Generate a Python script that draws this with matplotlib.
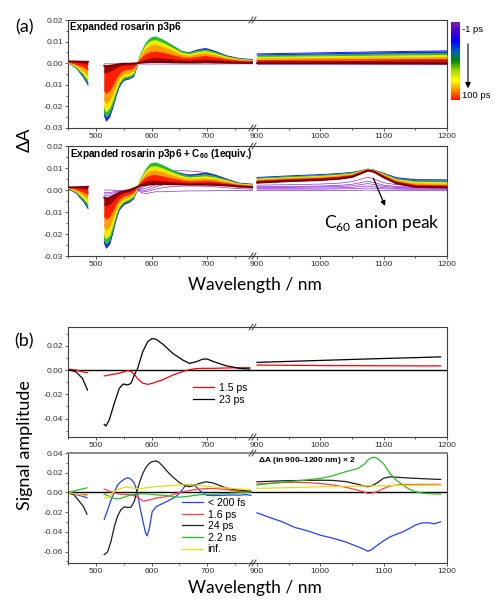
import matplotlib
matplotlib.use('Agg')
import matplotlib.pyplot as plt
import numpy as np
from matplotlib.colors import LinearSegmentedColormap, Normalize
from matplotlib.cm import ScalarMappable
from matplotlib.lines import Line2D
from matplotlib.patches import FancyArrowPatch
from matplotlib.ticker import MultipleLocator, FormatStrFormatter

plt.rcParams['font.family'] = ['Liberation Sans', 'DejaVu Sans']
plt.rcParams['mathtext.fontset'] = 'custom'
plt.rcParams['mathtext.rm'] = 'Lato'
plt.rcParams['mathtext.bf'] = 'Liberation Sans:bold'

nan = np.nan

# ---------------- panel (a): transient spectra ----------------
wl_a = [450, 465, 478, 486, 500, 515, 519, 525, 530, 536, 542, 550, 560, 568, 575,
        581, 590, 598, 607, 620, 637, 655, 668, 682, 697, 712, 735, 757, 782]

# expanded rosarin p3p6, early (blue) -> late (dark red)
ros_blue = [0.0003, -0.0022, -0.0065, -0.0100, nan, -0.0240, -0.0268, -0.0248, -0.0210, -0.0156,
            -0.0110, -0.0080, -0.0073, -0.0062, -0.0005, 0.0040, 0.0085, 0.0105, 0.0110, 0.0100,
            0.0080, 0.0053, 0.0049, 0.0061, 0.0068, 0.0057, 0.0034, 0.0022, 0.0016]
ros_green = [0.0003, -0.0020, -0.0058, -0.0090, nan, -0.0222, -0.0250, -0.0232, -0.0196, -0.0146,
             -0.0102, -0.0074, -0.0068, -0.0056, 0.0000, 0.0045, 0.0092, 0.0115, 0.0122, 0.0108,
             0.0082, 0.0053, 0.0047, 0.0056, 0.0062, 0.0052, 0.0031, 0.0020, 0.0014]
ros_yellow = [0.0004, -0.0016, -0.0048, -0.0075, nan, -0.0200, -0.0225, -0.0208, -0.0176, -0.0130,
              -0.0090, -0.0064, -0.0058, -0.0047, 0.0000, 0.0038, 0.0080, 0.0099, 0.0105, 0.0093,
              0.0070, 0.0045, 0.0040, 0.0048, 0.0054, 0.0045, 0.0027, 0.0017, 0.0012]
ros_orange = [0.0005, -0.0011, -0.0034, -0.0055, nan, -0.0165, -0.0187, -0.0172, -0.0145, -0.0106,
              -0.0072, -0.0050, -0.0045, -0.0036, 0.0000, 0.0030, 0.0063, 0.0078, 0.0083, 0.0074,
              0.0056, 0.0036, 0.0032, 0.0039, 0.0044, 0.0037, 0.0022, 0.0014, 0.0010]
ros_red = [0.0006, -0.0005, -0.0018, -0.0030, nan, -0.0122, -0.0140, -0.0128, -0.0107, -0.0077,
           -0.0050, -0.0033, -0.0029, -0.0022, 0.0000, 0.0018, 0.0039, 0.0049, 0.0052, 0.0047,
           0.0036, 0.0024, 0.0022, 0.0027, 0.0031, 0.0026, 0.0016, 0.0010, 0.0007]
ros_dred = [0.0008, 0.0004, 0.0000, -0.0005, nan, -0.0040, -0.0045, -0.0040, -0.0033, -0.0023,
            -0.0014, -0.0009, -0.0008, -0.0006, 0.0000, 0.0006, 0.0014, 0.0020, 0.0022, 0.0020,
            0.0016, 0.0011, 0.0010, 0.0013, 0.0015, 0.0013, 0.0008, 0.0005, 0.0004]
ros_late = [0.0009, 0.0008, 0.0007, 0.0007, nan, -0.0012, -0.0014, -0.0012, -0.0010, -0.0007,
            -0.0004, -0.0002, -0.0002, -0.0001, 0.0000, 0.0002, 0.0004, 0.0005, 0.0005, 0.0005,
            0.0004, 0.0003, 0.0003, 0.0003, 0.0004, 0.0003, 0.0002, 0.0001, 0.0001]
ros_purple = [0.0000, 0.0000, -0.0001, -0.0002, nan, -0.0003, -0.0003, -0.0003, -0.0003, -0.0003,
              -0.0003, -0.0003, -0.0003, -0.0003, -0.0003, -0.0004, -0.0004, -0.0004, -0.0004, -0.0004,
              -0.0004, -0.0004, -0.0004, -0.0004, -0.0004, -0.0004, -0.0003, -0.0003, -0.0003]

wl_a_nir = [900, 1000, 1100, 1200]
ros_nir_blue = [0.0043, 0.0048, 0.0053, 0.0057]
ros_nir_green = [0.0035, 0.0039, 0.0043, 0.0046]
ros_nir_yellow = [0.0027, 0.0030, 0.0033, 0.0036]
ros_nir_orange = [0.0019, 0.0022, 0.0024, 0.0026]
ros_nir_red = [0.0012, 0.0014, 0.0016, 0.0018]
ros_nir_dred = [0.0006, 0.0007, 0.0009, 0.0011]
ros_nir_late = [0.0000, 0.0000, -0.0001, -0.0002]
ros_nir_purple = [-0.0004, -0.0004, -0.0004, -0.0004]

# expanded rosarin p3p6 + C60
c60_blue = [0.0008, -0.0015, -0.0052, -0.0084, nan, -0.0240, -0.0264, -0.0246, -0.0200, -0.0138,
            -0.0092, -0.0067, -0.0056, -0.0040, 0.0006, 0.0045, 0.0085, 0.0108, 0.0113, 0.0104,
            0.0087, 0.0074, 0.0066, 0.0072, 0.0077, 0.0069, 0.0049, 0.0031, 0.0026]
c60_green = [0.0009, -0.0012, -0.0045, -0.0075, nan, -0.0222, -0.0248, -0.0230, -0.0186, -0.0128,
             -0.0084, -0.0060, -0.0050, -0.0035, 0.0008, 0.0049, 0.0092, 0.0118, 0.0123, 0.0111,
             0.0089, 0.0070, 0.0062, 0.0066, 0.0070, 0.0063, 0.0046, 0.0029, 0.0024]
c60_yellow = [0.0010, -0.0008, -0.0036, -0.0060, nan, -0.0198, -0.0222, -0.0205, -0.0166, -0.0114,
              -0.0074, -0.0052, -0.0042, -0.0028, 0.0009, 0.0045, 0.0083, 0.0102, 0.0106, 0.0096,
              0.0077, 0.0061, 0.0054, 0.0057, 0.0060, 0.0055, 0.0041, 0.0027, 0.0022]
c60_orange = [0.0011, -0.0003, -0.0024, -0.0040, nan, -0.0162, -0.0182, -0.0168, -0.0136, -0.0093,
              -0.0060, -0.0042, -0.0032, -0.0020, 0.0011, 0.0039, 0.0070, 0.0084, 0.0087, 0.0079,
              0.0064, 0.0051, 0.0046, 0.0048, 0.0050, 0.0046, 0.0035, 0.0024, 0.0019]
c60_red = [0.0012, 0.0004, -0.0010, -0.0020, nan, -0.0118, -0.0132, -0.0122, -0.0099, -0.0068,
           -0.0043, -0.0029, -0.0020, -0.0010, 0.0013, 0.0032, 0.0055, 0.0064, 0.0066, 0.0060,
           0.0050, 0.0041, 0.0037, 0.0038, 0.0040, 0.0037, 0.0029, 0.0020, 0.0016]
c60_dred = [0.0012, 0.0010, 0.0006, 0.0004, nan, -0.0065, -0.0072, -0.0066, -0.0054, -0.0038,
            -0.0024, -0.0014, -0.0007, 0.0001, 0.0014, 0.0025, 0.0036, 0.0040, 0.0041, 0.0038,
            0.0034, 0.0030, 0.0028, 0.0029, 0.0030, 0.0028, 0.0024, 0.0018, 0.0014]
c60_late = [0.0012, 0.0013, 0.0014, 0.0015, nan, -0.0035, -0.0040, -0.0036, -0.0029, -0.0020,
            -0.0012, -0.0006, 0.0000, 0.0008, 0.0015, 0.0020, 0.0023, 0.0025, 0.0026, 0.0026,
            0.0026, 0.0025, 0.0024, 0.0024, 0.0024, 0.0023, 0.0020, 0.0016, 0.0013]
c60_purple1 = [0.0000, 0.0000, -0.0002, -0.0004, nan, 0.0000, 0.0000, 0.0000, -0.0001, -0.0002,
               -0.0002, -0.0001, 0.0000, 0.0000, -0.0003, -0.0010, -0.0018, -0.0012, -0.0008, -0.0008,
               -0.0006, -0.0005, -0.0004, -0.0004, -0.0004, -0.0003, -0.0003, -0.0002, -0.0002]
c60_purple2 = [0.0002, 0.0000, -0.0004, -0.0008, nan, -0.0010, -0.0012, -0.0011, -0.0009, -0.0007,
               -0.0005, -0.0004, -0.0003, -0.0002, 0.0000, -0.0004, -0.0008, -0.0002, 0.0004, 0.0010,
               0.0016, 0.0018, 0.0018, 0.0018, 0.0017, 0.0015, 0.0010, 0.0006, 0.0004]
c60_purple3 = [0.0003, 0.0000, -0.0006, -0.0012, nan, -0.0017, -0.0019, -0.0017, -0.0014, -0.0011,
               -0.0008, -0.0006, -0.0005, -0.0003, 0.0001, 0.0000, -0.0002, 0.0006, 0.0014, 0.0024,
               0.0032, 0.0035, 0.0035, 0.0034, 0.0032, 0.0028, 0.0020, 0.0012, 0.0008]
c60_purple4 = [0.0003, 0.0000, -0.0006, -0.0012, nan, -0.0025, -0.0028, -0.0026, -0.0022, -0.0017,
               -0.0013, -0.0009, -0.0007, -0.0004, 0.0002, 0.0005, 0.0008, 0.0015, 0.0025, 0.0038,
               0.0048, 0.0052, 0.0052, 0.0050, 0.0048, 0.0042, 0.0030, 0.0018, 0.0012]
c60_purple5 = [0.0004, 0.0000, -0.0007, -0.0014, nan, -0.0031, -0.0034, -0.0031, -0.0026, -0.0020,
               -0.0015, -0.0011, -0.0008, -0.0005, 0.0003, 0.0010, 0.0019, 0.0032, 0.0047, 0.0060,
               0.0068, 0.0071, 0.0070, 0.0068, 0.0065, 0.0057, 0.0040, 0.0024, 0.0016]
c60_purple6 = [0.0004, 0.0000, -0.0008, -0.0016, nan, -0.0035, -0.0040, -0.0036, -0.0030, -0.0024,
               -0.0018, -0.0013, -0.0010, -0.0006, 0.0004, 0.0015, 0.0030, 0.0050, 0.0068, 0.0080,
               0.0087, 0.0088, 0.0086, 0.0084, 0.0080, 0.0070, 0.0050, 0.0030, 0.0020]

wl_c60_nir = [900, 950, 1000, 1030, 1050, 1065, 1075, 1085, 1100, 1120, 1150, 1200]
c60_nir_blue = [0.0057, 0.0064, 0.0070, 0.0075, 0.0080, 0.0088, 0.0095, 0.0090, 0.0076, 0.0056, 0.0047, 0.0046]
c60_nir_green = [0.0053, 0.0060, 0.0066, 0.0071, 0.0077, 0.0087, 0.0094, 0.0089, 0.0073, 0.0051, 0.0041, 0.0040]
c60_nir_yellow = [0.0049, 0.0056, 0.0062, 0.0067, 0.0073, 0.0085, 0.0093, 0.0088, 0.0070, 0.0046, 0.0035, 0.0033]
c60_nir_orange = [0.0045, 0.0052, 0.0057, 0.0063, 0.0070, 0.0083, 0.0092, 0.0087, 0.0067, 0.0042, 0.0028, 0.0026]
c60_nir_red = [0.0041, 0.0048, 0.0053, 0.0059, 0.0066, 0.0081, 0.0091, 0.0086, 0.0064, 0.0038, 0.0022, 0.0020]
c60_nir_dred = [0.0038, 0.0045, 0.0050, 0.0056, 0.0063, 0.0079, 0.0090, 0.0085, 0.0061, 0.0034, 0.0018, 0.0015]
c60_nir_late = [0.0033, 0.0040, 0.0045, 0.0051, 0.0059, 0.0076, 0.0088, 0.0082, 0.0057, 0.0030, 0.0014, 0.0011]
c60_nir_purple1 = [-0.0002, -0.0002, -0.0002, -0.0002, -0.0002, -0.0001, 0.0000, -0.0001, -0.0002, -0.0002, -0.0002, -0.0002]
c60_nir_purple2 = [0.0004, 0.0004, 0.0004, 0.0005, 0.0006, 0.0008, 0.0009, 0.0008, 0.0005, 0.0004, 0.0003, 0.0003]
c60_nir_purple3 = [0.0008, 0.0008, 0.0009, 0.0010, 0.0012, 0.0016, 0.0018, 0.0015, 0.0010, 0.0008, 0.0007, 0.0007]
c60_nir_purple4 = [0.0012, 0.0012, 0.0014, 0.0016, 0.0019, 0.0025, 0.0029, 0.0025, 0.0016, 0.0012, 0.0011, 0.0011]
c60_nir_purple5 = [0.0015, 0.0016, 0.0018, 0.0021, 0.0026, 0.0034, 0.0040, 0.0034, 0.0022, 0.0016, 0.0014, 0.0014]
c60_nir_purple6 = [0.0022, 0.0024, 0.0027, 0.0031, 0.0038, 0.0050, 0.0058, 0.0050, 0.0033, 0.0024, 0.0021, 0.0020]

delay_labels = ['-1 ps', '100 ps']

# ---------------- panel (b): decay associated spectra ----------------
wl_b1 = [449, 464, 476, 485, 500, 515, 518, 524, 533, 542, 549, 557, 563, 569, 575,
         584, 593, 601, 608, 620, 638, 656, 668, 680, 692, 700, 712, 733, 757, 776]
das1_23ps = [0.0006, -0.0014, -0.0069, -0.0165, nan, -0.0447, -0.0461, -0.0412, -0.0274, -0.0151,
             -0.0115, -0.0123, -0.0110, -0.0041, 0.0014, 0.0150, 0.0233, 0.0260, 0.0253, 0.0214,
             0.0137, 0.0082, 0.0055, 0.0068, 0.0090, 0.0090, 0.0068, 0.0036, 0.0014, 0.0008]
das1_1p5ps = [0.0008, 0.0000, -0.0015, -0.0022, nan, -0.0049, -0.0046, -0.0041, -0.0033, -0.0027,
              -0.0016, -0.0005, -0.0012, -0.0035, -0.0072, -0.0108, -0.0118, -0.0110, -0.0098, -0.0080,
              -0.0042, -0.0012, 0.0003, 0.0012, 0.0014, 0.0014, 0.0014, 0.0017, 0.0019, 0.0019]
wl_b1_nir = [900, 950, 1000, 1050, 1100, 1150, 1190]
das1_nir_23ps = [0.0063, 0.0071, 0.0079, 0.0087, 0.0095, 0.0102, 0.0108]
das1_nir_1p5ps = [0.0041, 0.0039, 0.0037, 0.0036, 0.0035, 0.0034, 0.0034]
das1_labels = ['1.5 ps', '23 ps']

wl_b2 = [449, 461, 471, 478, 484, 500, 515, 521, 527, 533, 539, 545, 551, 557, 563, 569, 575,
         579, 584, 589, 592, 596, 601, 608, 614, 620, 626, 632, 641, 650, 659, 668, 677, 686,
         698, 709, 720, 733, 745, 757, 769, 778]
das2_200fs = [0.0000, -0.0017, -0.0031, -0.0042, -0.0055, nan, -0.0272, -0.0180, -0.0080, 0.0000,
              0.0074, 0.0110, 0.0135, 0.0149, 0.0136, 0.0095, -0.0010, -0.0146, -0.0280, -0.0407,
              -0.0441, -0.0366, -0.0197, -0.0146, -0.0128, -0.0112, -0.0095, -0.0078, -0.0052, -0.0010,
              0.0057, 0.0081, 0.0074, 0.0023, -0.0027, -0.0032, -0.0030, -0.0028, -0.0026, -0.0028,
              -0.0022, -0.0030]
das2_1p6ps = [0.0000, -0.0014, -0.0018, -0.0021, -0.0024, nan, 0.0034, 0.0020, 0.0005, -0.0005,
              -0.0013, -0.0019, -0.0021, -0.0021, -0.0025, -0.0034, -0.0050, -0.0063, -0.0088, -0.0085,
              -0.0080, -0.0076, -0.0068, -0.0058, -0.0052, -0.0048, -0.0044, -0.0035, -0.0016, 0.0000,
              0.0010, 0.0018, 0.0028, 0.0034, 0.0038, 0.0040, 0.0036, 0.0030, 0.0020, 0.0008,
              0.0007, 0.0007]
das2_24ps = [0.0000, -0.0027, -0.0095, -0.0146, -0.0220, nan, -0.0630, -0.0604, -0.0500, -0.0350,
             -0.0240, -0.0175, -0.0146, -0.0153, -0.0150, -0.0090, 0.0040, 0.0110, 0.0190, 0.0245,
             0.0270, 0.0295, 0.0312, 0.0320, 0.0301, 0.0268, 0.0227, 0.0190, 0.0142, 0.0100,
             0.0072, 0.0058, 0.0072, 0.0092, 0.0108, 0.0098, 0.0075, 0.0047, 0.0032, 0.0023,
             0.0016, 0.0013]
das2_2p2ns = [0.0000, 0.0015, 0.0028, 0.0038, 0.0047, nan, -0.0017, -0.0032, -0.0048, -0.0060,
              -0.0065, -0.0060, -0.0048, -0.0035, -0.0024, -0.0018, -0.0015, -0.0014, -0.0014, -0.0014,
              -0.0015, -0.0017, -0.0020, -0.0024, -0.0027, -0.0029, -0.0031, -0.0036, -0.0045, -0.0048,
              -0.0043, -0.0038, -0.0030, -0.0024, -0.0020, -0.0018, -0.0016, -0.0012, -0.0007, -0.0004,
              -0.0001, 0.0000]
das2_inf = [0.0000, -0.0013, -0.0022, -0.0028, -0.0034, nan, -0.0058, -0.0050, -0.0030, 0.0010,
            0.0028, 0.0040, 0.0050, 0.0053, 0.0048, 0.0042, 0.0038, 0.0037, 0.0040, 0.0046,
            0.0049, 0.0051, 0.0054, 0.0058, 0.0061, 0.0063, 0.0066, 0.0068, 0.0072, 0.0077,
            0.0078, 0.0078, 0.0077, 0.0070, 0.0061, 0.0056, 0.0051, 0.0046, 0.0040, 0.0035,
            0.0030, 0.0027]

wl_b2_nir = [900, 920, 940, 960, 980, 1000, 1020, 1040, 1060, 1070, 1075, 1080, 1085, 1090,
             1100, 1110, 1120, 1130, 1140, 1150, 1160, 1170, 1180, 1190]
das2_nir_200fs = [-0.0207, -0.0254, -0.0298, -0.0356, -0.0390, -0.0434, -0.0465, -0.0502, -0.0553, -0.0580,
                  -0.0597, -0.0585, -0.0560, -0.0536, -0.0490, -0.0451, -0.0425, -0.0400, -0.0368, -0.0332,
                  -0.0310, -0.0308, -0.0318, -0.0298]
das2_nir_1p6ps = [0.0085, 0.0093, 0.0100, 0.0102, 0.0099, 0.0090, 0.0076, 0.0052, 0.0022, 0.0002,
                  -0.0010, -0.0008, -0.0002, 0.0008, 0.0040, 0.0064, 0.0074, 0.0080, 0.0081, 0.0080,
                  0.0082, 0.0081, 0.0082, 0.0081]
das2_nir_24ps = [0.0108, 0.0113, 0.0118, 0.0120, 0.0122, 0.0124, 0.0122, 0.0110, 0.0082, 0.0062,
                 0.0058, 0.0065, 0.0080, 0.0098, 0.0145, 0.0158, 0.0155, 0.0150, 0.0146, 0.0143,
                 0.0140, 0.0137, 0.0134, 0.0132]
das2_nir_2p2ns = [0.0075, 0.0090, 0.0103, 0.0115, 0.0128, 0.0142, 0.0170, 0.0210, 0.0244, 0.0290,
                  0.0329, 0.0350, 0.0356, 0.0345, 0.0290, 0.0193, 0.0125, 0.0075, 0.0035, 0.0007,
                  -0.0005, -0.0012, -0.0015, -0.0017]
das2_nir_inf = [0.0041, 0.0044, 0.0047, 0.0050, 0.0054, 0.0058, 0.0060, 0.0062, 0.0064, 0.0065,
                0.0066, 0.0066, 0.0067, 0.0067, 0.0068, 0.0069, 0.0070, 0.0071, 0.0072, 0.0073,
                0.0073, 0.0074, 0.0074, 0.0075]
das2_labels = ['< 200 fs', '1.6 ps', '24 ps', '2.2 ns', 'inf.']

# ---------------- figure ----------------
W, H = 495, 600
fig = plt.figure(figsize=(W / 100, H / 100), dpi=100)

BIG_FONT = ['Lato', 'DejaVu Sans']
band_colors = ['#1a1aff', '#20c030', '#f4ec00', '#ffa000', '#ff2000', '#a00000']
late_color = '#7a0000'
purple = '#8e2de0'
spine_col = '#404040'


def fx(x):
    return x / W


def fy(y):
    return 1 - y / H


def make_pair(top, bottom, ylim, major, minor):
    b = fy(bottom)
    h = (bottom - top) / H
    axl = fig.add_axes([fx(68), b, fx(253 - 68), h])
    axr = fig.add_axes([fx(253), b, fx(447 - 253), h])
    axl.set_xlim(450, 782)
    axr.set_xlim(893.7, 1200)
    for ax in (axl, axr):
        ax.set_ylim(*ylim)
        for s in ax.spines.values():
            s.set_color(spine_col)
            s.set_linewidth(0.8)
        ax.tick_params(which='both', direction='out', color=spine_col, width=0.6,
                       labelsize=6, labelcolor='#303030', pad=1.2)
        ax.tick_params(which='major', length=2.5)
        ax.tick_params(which='minor', length=1.5)
        ax.yaxis.set_major_locator(MultipleLocator(major))
        ax.yaxis.set_minor_locator(MultipleLocator(minor))
        ax.yaxis.set_major_formatter(FormatStrFormatter('%.2f'))
        ax.xaxis.set_major_locator(MultipleLocator(100))
        ax.xaxis.set_minor_locator(MultipleLocator(50))
    axl.spines['right'].set_visible(False)
    axr.spines['left'].set_visible(False)
    axr.tick_params(which='both', left=False, labelleft=False)
    # break marks
    for yy in (top, bottom):
        for dx in (0, 3):
            fig.add_artist(Line2D([fx(249 + dx), fx(253 + dx)], [fy(yy + 3), fy(yy - 3)],
                                  color=spine_col, lw=0.7))
    return axl, axr


def draw_family(ax, wl, curves, purples):
    for p in purples:
        ax.plot(wl, p, color=purple, lw=0.5, zorder=1)
    for i in range(len(curves) - 1):
        ax.fill_between(wl, curves[i], curves[i + 1], color=band_colors[i], lw=0, zorder=2 + i)
        ax.plot(wl, curves[i], color=band_colors[i], lw=0.7, zorder=2 + i)
    ax.plot(wl, curves[-1], color=late_color, lw=1.3, zorder=10)


# (a) top
a1l, a1r = make_pair(20, 128, (-0.03, 0.02), 0.01, 0.005)
draw_family(a1l, wl_a, [ros_blue, ros_green, ros_yellow, ros_orange, ros_red, ros_dred, ros_late],
            [ros_purple])
draw_family(a1r, wl_a_nir, [ros_nir_blue, ros_nir_green, ros_nir_yellow, ros_nir_orange,
                            ros_nir_red, ros_nir_dred, ros_nir_late], [ros_nir_purple])
fig.text(fx(70), fy(27), 'Expanded rosarin p3p6', fontsize=7.2, fontweight='bold', va='center')

# (a) bottom
a2l, a2r = make_pair(146, 256, (-0.03, 0.02), 0.01, 0.005)
draw_family(a2l, wl_a, [c60_blue, c60_green, c60_yellow, c60_orange, c60_red, c60_dred, c60_late],
            [c60_purple1, c60_purple2, c60_purple3, c60_purple4, c60_purple5, c60_purple6])
draw_family(a2r, wl_c60_nir, [c60_nir_blue, c60_nir_green, c60_nir_yellow, c60_nir_orange,
                              c60_nir_red, c60_nir_dred, c60_nir_late],
            [c60_nir_purple1, c60_nir_purple2, c60_nir_purple3, c60_nir_purple4,
             c60_nir_purple5, c60_nir_purple6])
fig.text(fx(70), fy(154), r'Expanded rosarin p3p6 + C$_{\mathbf{60}}$ (1equiv.)', fontsize=7.2,
         fontweight='bold', va='center')
a2r.annotate('', xy=(1104, -0.0084), xytext=(1082, 0.0065),
             arrowprops=dict(arrowstyle='-|>', color='black', lw=0.9, mutation_scale=7))
fig.text(fx(324), fy(223), r'C$_{\mathrm{60}}$ anion peak', fontsize=12.5, family=BIG_FONT,
         va='center')

# colorbar
cb_colors = ['#ff1000', '#ff8c00', '#ffff00', '#a8d800', '#008a00', '#0060c0', '#0000ff',
             '#4000d0', '#7f20a8']
cmap = LinearSegmentedColormap.from_list('delay', cb_colors)
cax = fig.add_axes([fx(451), fy(100), fx(9), 78 / H])
cb = fig.colorbar(ScalarMappable(Normalize(0, 1), cmap), cax=cax)
cb.outline.set_visible(False)
cb.set_ticks([])
fig.text(fx(462), fy(29), delay_labels[0], fontsize=6.8, va='center')
fig.text(fx(462), fy(96), delay_labels[1], fontsize=6.8, va='center')
fig.add_artist(FancyArrowPatch((fx(468), fy(41)), (fx(468), fy(91)),
                               transform=fig.transFigure, arrowstyle='-|>',
                               mutation_scale=8, color='black', lw=0.8))

# (b) top
b1l, b1r = make_pair(327, 437, (-0.0551, 0.0354), 0.02, 0.01)
for ax in (b1l, b1r):
    ax.axhline(0, color='black', lw=1.0, zorder=1)
b1l.plot(wl_b1, das1_1p5ps, color='#ff0000', lw=0.9, label=das1_labels[0])
b1l.plot(wl_b1, das1_23ps, color='black', lw=0.9, label=das1_labels[1])
b1r.plot(wl_b1_nir, das1_nir_1p5ps, color='#ff0000', lw=0.9)
b1r.plot(wl_b1_nir, das1_nir_23ps, color='black', lw=0.9)
b1l.legend(loc='upper left', bbox_to_anchor=(fx(193), fy(383)), bbox_transform=fig.transFigure,
           frameon=False, handlelength=2.0, handletextpad=0.45, labelspacing=0.15,
           borderpad=0, borderaxespad=0, prop={'size': 7.5})

# (b) bottom
b2l, b2r = make_pair(453, 563, (-0.0716, 0.04), 0.02, 0.01)
for ax in (b2l, b2r):
    ax.axhline(0, color='black', lw=1.0, zorder=1)
    ax.spines['top'].set_color('#888888')
    ax.spines['top'].set_linewidth(1.4)
das2_left = [das2_200fs, das2_1p6ps, das2_24ps, das2_2p2ns, das2_inf]
das2_right = [das2_nir_200fs, das2_nir_1p6ps, das2_nir_24ps, das2_nir_2p2ns, das2_nir_inf]
das2_colors = ['#2040ff', '#ff4040', '#202020', '#20c020', '#e8e000']
for yl, yr, c, lab in zip(das2_left, das2_right, das2_colors, das2_labels):
    b2l.plot(wl_b2, yl, color=c, lw=0.9, label=lab)
    b2r.plot(wl_b2_nir, yr, color=c, lw=0.9)
b2l.legend(loc='upper left', bbox_to_anchor=(fx(182), fy(498)), bbox_transform=fig.transFigure,
           frameon=False, handlelength=2.0, handletextpad=0.45, labelspacing=0.15,
           borderpad=0, borderaxespad=0, prop={'size': 7.5})
fig.text(fx(258), fy(460), r'$\mathbf{\Delta}$A (in 900–1200 nm) × 2', fontsize=6,
         fontweight='bold', va='center')

# big labels
fig.text(fx(24), fy(27), '(a)', fontsize=13, family=BIG_FONT, ha='center', va='center')
fig.text(fx(24), fy(341), '(b)', fontsize=13, family=BIG_FONT, ha='center', va='center')
fig.text(fx(25), fy(140), 'ΔA', fontsize=13, family=BIG_FONT, ha='center', va='center',
         rotation=90)
fig.text(fx(25), fy(445), 'Signal amplitude', fontsize=13, family=BIG_FONT, ha='center',
         va='center', rotation=90)
fig.text(fx(255), fy(285), 'Wavelength / nm', fontsize=12.5, family=BIG_FONT, ha='center',
         va='center')
fig.text(fx(255), fy(588), 'Wavelength / nm', fontsize=12.5, family=BIG_FONT, ha='center',
         va='center')

fig.savefig('out.png', dpi=100)
